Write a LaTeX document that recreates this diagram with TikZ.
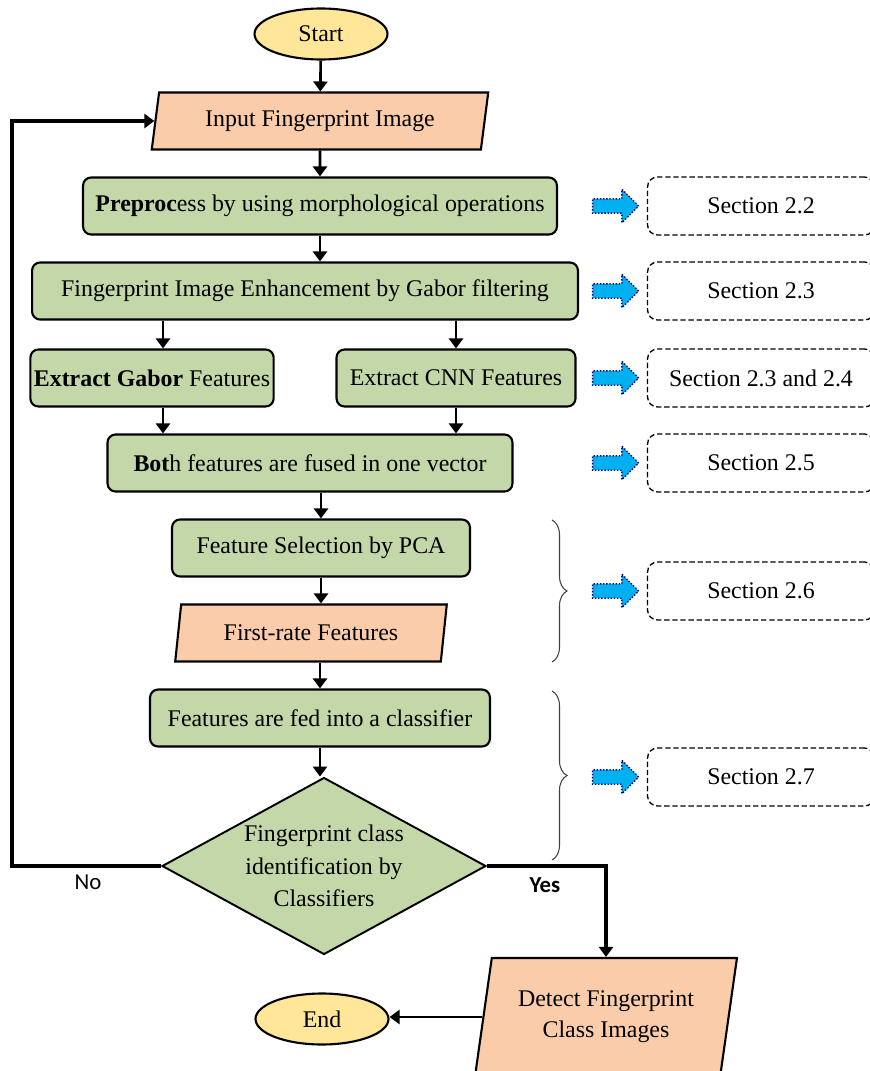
\documentclass[tikz,border=0pt]{standalone}
\usepackage{fontspec}
\setmainfont{Liberation Serif}
\newfontfamily\yesnofont{Carlito}
\usepackage{xcolor}
\usepackage{tikz}
\usetikzlibrary{positioning,arrows.meta,shapes.geometric,shapes.arrows,decorations.pathreplacing}
\definecolor{boxgreen}{RGB}{196,215,168}
\definecolor{ioorange}{RGB}{251,204,170}
\definecolor{termyellow}{RGB}{255,230,153}
\definecolor{ptrblue}{RGB}{0,176,240}

\begin{document}
\begin{tikzpicture}[
  x=0.02cm, y=-0.02cm,
  font=\fontsize{13.6}{16}\selectfont,
  proc/.style={draw, line width=1.2pt, rounded corners=0.16cm, fill=boxgreen, minimum height=1.14cm, inner sep=2pt},
  io/.style={draw, line width=1.2pt, trapezium, trapezium left angle=76, trapezium right angle=104, trapezium stretches=true, fill=ioorange, minimum height=1.14cm, inner sep=0pt, align=center, font=\fontsize{13.6}{17.5}\selectfont},
  term/.style={draw, line width=1.2pt, ellipse, fill=termyellow, minimum width=2.66cm, minimum height=1.02cm},
  decide/.style={draw, line width=1.1pt, diamond, aspect=1.83, fill=boxgreen, minimum width=6.48cm, minimum height=3.54cm, inner sep=0pt, align=center, font=\fontsize{13.6}{18.5}\selectfont},
  secbox/.style={draw, dash pattern=on 3pt off 1.6pt, line width=0.75pt, rounded corners=0.2cm, minimum width=4.54cm, minimum height=1.16cm},
  pointer/.style={single arrow, draw=blue!45!black, densely dotted, line width=0.8pt, fill=ptrblue, minimum height=0.92cm, minimum width=0.64cm, single arrow head extend=0.19cm, inner sep=0pt, inner ysep=0.13cm},
  curly/.style={decorate, decoration={brace, amplitude=0.3cm}, line width=0.6pt, black!75},
  yesno/.style={font=\yesnofont\fontsize{13}{15}\selectfont},
  arr/.style={line width=1.5pt, -{Triangle[length=2mm, width=2.8mm]}}
]
\useasboundingbox (0,0) rectangle (869,1071);

\node[term] (start) at (321,34) {Start};
\node[io, minimum width=6.74cm] (inp) at (320,121) {Input Fingerprint Image};
\node[proc, minimum width=9.48cm] (pre) at (320,206) {\textbf{Preproc}ess by using morphological operations};
\node[proc, minimum width=10.92cm] (enh) at (305,291) {Fingerprint Image Enhancement by Gabor filtering};
\node[proc, minimum width=4.8cm] (gab) at (152,378) {\textbf{Extract Gabor} Features};
\node[proc, minimum width=4.78cm] (cnn) at (456,378) {Extract CNN Features};
\node[proc, minimum width=8.1cm] (fuse) at (310,463) {\textbf{Bot}h features are fused in one vector};
\node[proc, minimum width=5.96cm] (pca) at (321,548) {Feature Selection by PCA};
\node[io, minimum width=5.44cm] (rate) at (311,633) {First-rate Features};
\node[proc, minimum width=6.8cm] (feed) at (320,718) {Features are fed into a classifier};
\node[decide] (cls) at (324,866) {Fingerprint class\\identification by\\Classifiers};
\node[io, minimum width=5.24cm, minimum height=2.36cm] (det) at (606,1017) {Detect Fingerprint\\Class Images};
\node[term] (end) at (322,1019) {End};

\node[secbox] (s22) at (761,206) {Section 2.2};
\node[secbox] (s23) at (761,291) {Section 2.3};
\node[secbox] (s234) at (761,378) {Section 2.3 and 2.4};
\node[secbox] (s25) at (761,463) {Section 2.5};
\node[secbox] (s26) at (761,591) {Section 2.6};
\node[secbox] (s27) at (761,777) {Section 2.7};

\node[pointer] (p22) at (612,206) {};
\node[pointer] (p23) at (612,291) {};
\node[pointer] (p234) at (612,378) {};
\node[pointer] (p25) at (612,463) {};
\node[pointer] (p26) at (612,591) {};
\node[pointer] (p27) at (612,777) {};

\draw[curly] (552,520) -- (552,662);
\draw[curly] (552,691) -- (552,860);

\draw[arr] (start) -- (inp);
\draw[arr] (inp.south) -- (pre.north);
\draw[arr] (pre.south) -- (pre.south |- enh.north);
\draw[arr] ([xshift=0.22cm]gab.north |- enh.south) -- ([xshift=0.22cm]gab.north);
\draw[arr] (cnn.north |- enh.south) -- (cnn.north);
\draw[arr] ([xshift=0.22cm]gab.south) -- ([xshift=0.22cm]gab.south |- fuse.north);
\draw[arr] (cnn.south) -- (cnn.south |- fuse.north);
\draw[arr] (pca.north |- fuse.south) -- (pca.north);
\draw[arr] (pca.south) -- (pca.south |- rate.north);
\draw[arr] (feed.north |- rate.south) -- (feed.north);
\draw[arr] (feed.south) -- (feed.south |- cls.north);

\coordinate (back) at (12,866);
\draw[arr, line width=1.8pt] (cls.west) -- (back) |- (inp.west);
\draw[arr, line width=1.8pt] (cls.east) -| (det.north);
\draw[arr] (det.west) -- (det.west -| end.east);

\node[yesno] (no) at (88,882) {No};
\node[yesno, font=\yesnofont\bfseries\fontsize{13}{15}\selectfont] (yes) at (545,885) {Yes};
\end{tikzpicture}
\end{document}
